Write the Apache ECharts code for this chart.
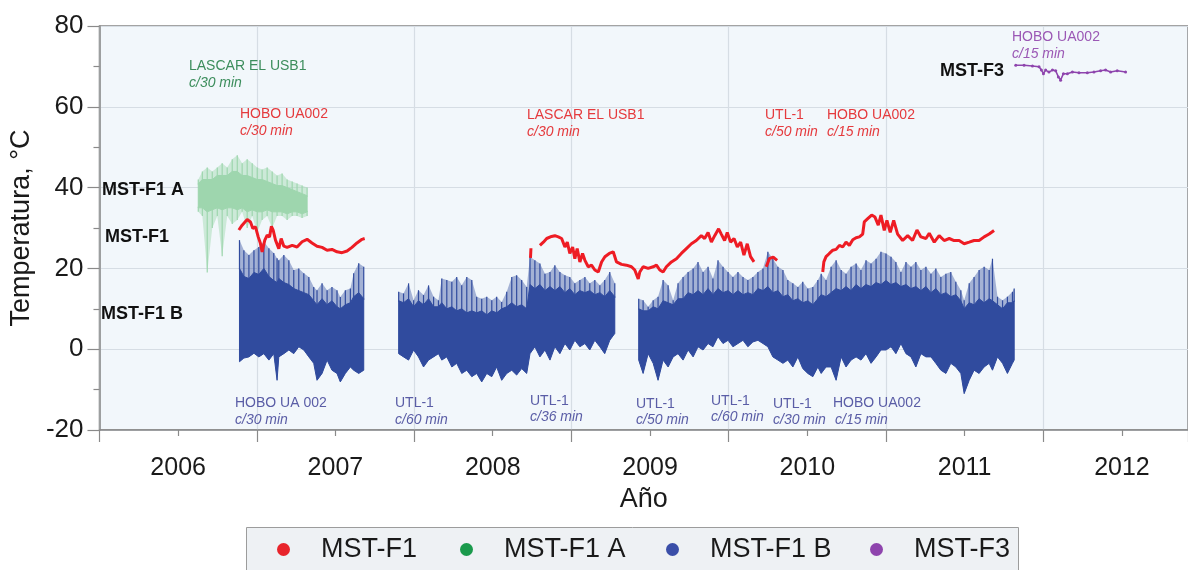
<!DOCTYPE html>
<html><head><meta charset="utf-8">
<script src="https://cdn.jsdelivr.net/npm/echarts@6/dist/echarts.min.js"></script>
<style>html,body{margin:0;padding:0;background:#fff}#c{width:1188px;height:570px}</style>
</head><body><div id="c"></div>
<script>
// ---- tick labels ----
const yearLabelPos = [2006.5, 2007.5, 2008.5, 2009.5, 2010.5, 2011.5, 2012.5];
const seriesNames = ['MST-F1', 'MST-F1 A', 'MST-F1 B', 'MST-F3'];

// ---- MST-F1 (red line), null = gap ----
const f1Year = [2006.886,2006.907,2006.939,2006.960,2006.975,2006.992,2007.009,2007.023,2007.034,2007.051,2007.066,2007.081,2007.093,2007.104,2007.119,2007.140,2007.155,2007.172,2007.193,2007.225,2007.256,2007.288,2007.320,2007.351,2007.383,2007.415,2007.447,2007.478,2007.510,2007.542,2007.574,2007.605,2007.637,2007.669,2007.686,
 null,2008.740,2008.743,
 null,2008.800,2008.822,2008.843,2008.874,2008.895,2008.917,2008.938,2008.959,2008.974,2008.990,2009.008,2009.022,2009.037,2009.054,2009.071,2009.086,2009.107,2009.128,2009.149,2009.171,2009.192,2009.213,2009.241,2009.266,2009.287,2009.319,2009.350,2009.382,2009.403,2009.425,2009.435,2009.456,2009.488,2009.520,2009.541,2009.562,2009.583,2009.604,2009.636,2009.668,2009.699,2009.731,2009.763,2009.794,2009.826,2009.847,2009.869,2009.890,2009.911,2009.936,2009.953,2009.974,2009.991,2010.012,2010.034,2010.055,2010.076,2010.097,2010.118,2010.139,2010.161,
 null,2010.239,2010.258,2010.283,2010.308,
 null,2010.598,2010.605,2010.619,2010.640,2010.662,2010.683,2010.704,2010.725,2010.746,2010.767,2010.789,2010.810,2010.831,2010.852,2010.862,2010.884,2010.909,2010.930,2010.951,2010.968,2010.989,2011.006,2011.027,2011.049,2011.074,2011.106,2011.138,2011.169,2011.197,2011.222,2011.254,2011.275,2011.307,2011.338,2011.370,2011.402,2011.433,2011.465,2011.497,2011.529,2011.560,2011.592,2011.624,2011.656,2011.687];
const f1Temp = [29.5,30.7,32.1,31.5,29.9,30.3,27.8,26.2,24.1,27.0,28.2,27.8,30.4,29.5,27.0,24.9,27.4,25.5,25.2,25.7,25.3,26.6,27.2,26.3,25.5,25.2,24.5,24.7,24.1,23.9,24.3,25.2,26.3,27.2,27.4,
 null,22.6,25.0,
 null,25.7,26.5,27.4,27.9,28.1,27.8,27.4,25.3,26.5,23.7,25.3,22.4,24.9,21.6,23.7,22.0,20.4,20.8,19.6,19.1,21.6,22.9,23.7,24.1,21.6,21.0,20.8,20.4,19.6,17.4,19.1,20.4,20.0,20.4,20.8,19.6,19.1,20.4,21.6,22.4,23.7,24.9,26.1,26.9,28.1,27.4,28.9,26.5,28.1,29.8,28.5,26.9,28.9,26.5,27.4,25.3,26.5,23.3,26.1,22.9,21.6,
 null,20.4,22.4,22.8,22.0,
 null,19.1,21.6,22.9,23.7,24.5,24.7,25.7,25.3,26.5,25.7,27.1,27.6,27.8,28.5,31.5,32.3,33.2,32.7,30.7,33.2,29.4,31.9,28.9,31.9,28.5,26.9,28.1,26.9,29.5,27.8,27.4,28.7,26.5,28.1,26.9,27.4,26.9,26.9,26.1,26.5,26.9,26.9,27.8,28.5,29.4];

// ---- MST-F1 A (green scatter band: extreme low/high and dense core low/high) ----
const f1aYear = [2006.628,2006.654,2006.685,2006.717,2006.749,2006.780,2006.812,2006.844,2006.876,2006.907,2006.939,2006.971,2007.003,2007.034,2007.066,2007.098,2007.129,2007.161,2007.193,2007.225,2007.256,2007.288,2007.320];
const f1aLow      = [34,33,19,30,33,23,33,31,32,34,30,33,29,32,33,30,33,33,32,33,33,32.5,33];
const f1aHigh     = [42,44,45,44,45,46,45,47,48,46,47,46,45,44.5,45,44,43,43.5,42,41.5,41,40.5,40];
const f1aCoreLow  = [35,35,34,34.5,35,34.5,35,35,34.5,35,34,34.5,34,34,34.5,34,34,34,33.5,34,34,33.5,34];
const f1aCoreHigh = [41,42,42,42,43,43,43,44,44,43,43,42.5,42,42,41.5,41,40.5,40.5,40,39.5,39,38.5,38];

// ---- MST-F1 B (blue scatter band: extreme low/high and dense core top), null = gap ----
const f1bYear = [2006.890,2006.918,2006.950,2006.982,2007.013,2007.045,2007.077,2007.108,2007.129,2007.140,2007.172,2007.204,2007.235,2007.267,2007.299,2007.331,2007.362,2007.383,2007.415,2007.447,2007.478,2007.510,2007.531,2007.563,2007.595,2007.616,2007.648,2007.680,
 null,2007.902,2007.933,2007.965,2007.997,2008.028,2008.060,2008.092,2008.124,2008.155,2008.176,2008.208,2008.240,2008.271,2008.303,2008.335,2008.367,2008.398,2008.430,2008.462,2008.494,2008.525,2008.557,2008.589,2008.621,2008.652,2008.684,2008.716,2008.737,2008.768,2008.800,2008.832,2008.864,2008.895,2008.927,2008.959,2008.990,2009.022,2009.054,2009.086,2009.117,2009.149,2009.181,2009.212,2009.244,2009.276,
 null,2009.428,2009.456,2009.488,2009.520,2009.551,2009.583,2009.615,2009.647,2009.678,2009.710,2009.742,2009.774,2009.805,2009.837,2009.869,2009.900,2009.932,2009.964,2009.996,2010.027,2010.059,2010.091,2010.122,2010.154,2010.186,2010.218,2010.249,2010.281,2010.313,2010.345,2010.376,2010.408,2010.440,2010.471,2010.503,2010.535,2010.567,2010.588,2010.619,2010.651,2010.683,2010.715,2010.746,2010.778,2010.810,2010.841,2010.873,2010.905,2010.937,2010.968,2011.000,2011.032,2011.063,2011.095,2011.127,2011.159,2011.190,2011.222,2011.254,2011.286,2011.317,2011.349,2011.381,2011.412,2011.444,2011.476,2011.497,2011.529,2011.560,2011.592,2011.624,2011.656,2011.677,2011.709,2011.741,2011.772,2011.804,2011.815];
const f1bLow = [-3.1,-2.2,-1.9,-1.0,-1.9,-1.1,-2.7,-1.1,-7.7,-1.9,-1.1,-0.2,-1.1,0.6,-0.2,-1.9,-3.5,-7.7,-6.0,-2.7,-5.2,-6.0,-8.1,-6.0,-4.4,-5.2,-6.0,-5.2,
 null,-1.1,-1.9,-2.7,-0.2,-1.9,-4.4,-2.7,-1.9,-1.1,-2.7,-1.9,-4.4,-3.5,-6.0,-5.2,-6.8,-6.0,-8.1,-6.0,-6.8,-4.4,-7.7,-6.0,-5.2,-6.4,-4.8,-6.0,-1.1,0.6,-1.9,-0.2,-2.7,0.6,-1.1,1.4,-0.2,2.2,0.6,1.4,-0.2,2.2,0.6,-1.1,2.2,3.9,
 null,-2.7,-6.0,-1.1,-3.5,-7.7,-2.7,-4.4,-1.9,-1.1,-2.7,-0.2,-1.9,0.6,-0.2,1.4,0.6,3.1,1.4,2.2,0.6,1.4,2.2,0.6,1.8,2.2,1.4,0.6,-1.9,-2.7,-3.5,-2.7,-4.4,-1.9,-4.8,-6.0,-6.8,-4.4,-6.0,-4.4,-4.4,-7.7,-1.9,-4.4,-2.7,-1.9,-2.7,-1.1,-3.5,-1.9,-0.2,-0.2,0.6,-1.1,1.4,-1.1,-1.9,-4.4,-1.1,-1.9,-1.9,-3.5,-5.2,-6.0,-3.5,-4.4,-6.0,-11.0,-7.7,-5.2,-6.0,-4.4,-3.5,-5.2,-1.9,-3.5,-6.0,-3.5,-2.7];
const f1bHigh = [27.0,24.5,23.3,24.5,25.3,26.6,25.0,23.8,22.5,22.0,23.3,22.0,19.6,20.0,18.8,17.9,15.4,14.6,16.3,14.6,15.4,14.6,12.9,14.6,15.0,18.8,21.3,20.4,
 null,14.2,13.8,16.3,12.1,14.6,13.4,15.8,13.0,12.1,17.5,17.1,16.7,17.9,15.8,17.9,17.1,13.0,12.5,13.0,12.1,13.0,11.7,14.2,17.9,18.3,17.1,15.4,22.9,22.0,21.2,18.7,19.1,20.8,19.1,18.3,17.9,16.3,17.1,17.9,16.3,17.1,15.8,17.1,19.1,16.3,
 null,12.5,12.1,10.5,12.1,13.0,17.1,15.8,12.1,16.3,17.9,19.1,20.0,21.6,19.1,20.4,17.5,22.0,20.4,19.1,17.9,19.1,17.9,17.1,17.9,19.1,20.0,24.1,22.4,20.4,19.6,17.1,16.3,15.4,16.7,15.0,15.4,17.1,18.7,17.1,20.4,22.0,19.6,18.7,20.4,21.2,19.6,22.0,21.2,22.4,24.1,23.7,22.9,21.6,19.1,21.6,20.4,21.6,19.6,20.4,18.7,20.0,17.9,18.7,19.1,16.7,14.6,12.1,16.3,17.9,19.6,20.4,19.6,22.4,13.0,12.1,13.0,14.2,15.0];
const f1bCoreHigh = [20,18,17.5,19,18.5,20,18,17,16.5,17.5,16.5,16,15,14.5,14,13.5,12,11,12.5,11,12,10.5,10,11,11.5,13,14,12.5,
 null,12,11.5,12.5,10.5,12,11,12.5,10.5,10.5,11.5,10,10.5,9.5,10,9,9.5,9,9.5,8.5,9.5,9,10,10.5,11.5,10.5,11,10,16,15,16,14.5,15.5,14.5,15.5,14,15,13.5,14.5,14,14.5,13.5,14,13,14.5,13,
 null,10,9.5,9.5,10.5,10,12,11.5,11,12.5,12.5,14,13.5,14.5,13.5,15,13.5,15,14,14.5,13.5,14.5,13.5,14,13.5,15,14.5,15.5,14,14.5,13,13.5,12,12.5,11.5,12,11,12.5,13.5,13,14,15,14.5,15.5,14.5,16,15,16,15.5,16.5,16,17,16,16.5,15.5,16,15,15.5,14.5,15.5,14,15,13.5,14,13,13.5,12,10,11.5,11,12.5,11.5,12.5,12,11,10,11.5,11.5,12];

// ---- MST-F3 (purple line) ----
const f3Year = [2011.825,2011.878,2011.931,2011.973,2011.988,2012.001,2012.015,2012.036,2012.058,2012.079,2012.096,2012.110,2012.128,2012.153,2012.185,2012.227,2012.280,2012.322,2012.364,2012.396,2012.428,2012.470,2012.523];
const f3Temp = [70.3,70.3,70.1,69.9,69.1,68.2,69.1,68.6,69.1,68.9,67.4,66.6,68.2,68.2,68.6,68.4,68.4,68.6,68.9,69.1,68.6,68.9,68.6];

const FONT = "'Liberation Sans', Arial, sans-serif";

function pairs(T, V) {
  return T.map((t, i) => (t == null || V[i] == null) ? ['-', '-'] : [t, V[i]]);
}

// band = faint envelope (sparse points) + solid dense core + thin spikes to the extremes
function bandSeries(name, T, LO, HI, CLO, CHI, color, haze, spikeW, z) {
  const starts = [];
  for (let i = 0; i < T.length; i++) {
    if (T[i] != null && (i === 0 || T[i - 1] == null)) starts.push([T[i], LO[i], HI[i], i]);
  }
  return {
    type: 'custom', name: name, z: z, xAxisIndex: 0, yAxisIndex: 0,
    itemStyle: { color: color },
    encode: { x: 0, y: [1, 2] },
    data: starts,
    clip: true,
    renderItem: function (params, api) {
      const i0 = api.value(3);
      const eTop = [], eBot = [], cTop = [], cBot = [], spikes = [];
      for (let i = i0; i < T.length && T[i] != null; i++) {
        const ch = CHI ? CHI[i] : HI[i];
        const cl = CLO ? CLO[i] : LO[i];
        const pHi = api.coord([T[i], HI[i]]), pCh = api.coord([T[i], ch]);
        const pLo = api.coord([T[i], LO[i]]), pCl = api.coord([T[i], cl]);
        eTop.push(pHi); eBot.push(pLo); cTop.push(pCh); cBot.push(pCl);
        if (HI[i] > ch) spikes.push({ type: 'line', shape: { x1: pCh[0], y1: pCh[1] + 1, x2: pHi[0], y2: pHi[1] },
          style: { stroke: color, lineWidth: spikeW } });
        if (LO[i] < cl) spikes.push({ type: 'line', shape: { x1: pCl[0], y1: pCl[1] - 1, x2: pLo[0], y2: pLo[1] },
          style: { stroke: color, lineWidth: spikeW } });
      }
      const kids = [
        { type: 'polygon', shape: { points: eTop.concat(eBot.slice().reverse()) },
          style: { fill: color, opacity: haze } },
        { type: 'polygon', shape: { points: cTop.concat(cBot.slice().reverse()) },
          style: { fill: color, stroke: color, lineWidth: 1 } }
      ].concat(spikes);
      return { type: 'group', children: kids };
    }
  };
}

function txt(x, y, s, color, opts) {
  opts = opts || {};
  return { type: 'text', left: x, top: y - (opts.size || 14) / 2 - 1, z: 50,
    style: { text: s, fill: color, fontFamily: FONT, fontSize: opts.size || 14,
      fontStyle: opts.italic ? 'italic' : 'normal', fontWeight: opts.bold ? 'bold' : 'normal' } };
}

function legendAt(x, name, color) {
  return { left: x, top: 536, padding: 0, itemWidth: 13, itemHeight: 13,
    textStyle: { fontFamily: FONT, fontSize: 27, color: '#1a1a1a', padding: [0, 0, 0, 26] },
    data: [{ name: name, icon: 'circle', itemStyle: { color: color } }] };
}

const RED_T = '#e53a3d', BLUE_T = '#5a5da6', GREEN_T = '#3c8d5c', PURP_T = '#9b58b5';

const chart = echarts.init(document.getElementById('c'), null, { renderer: 'canvas' });
chart.setOption({
  animation: false,
  grid: { left: 97, top: 26, right: 0, bottom: 140, show: true,
    backgroundColor: '#f2f7fb', borderColor: '#858585', borderWidth: 1.5 },
  xAxis: [{
    type: 'value', min: 2006, max: 2012.92, interval: 1,
    axisLine: { show: true, onZero: false, lineStyle: { color: '#8a8a8a', width: 1.5 } },
    axisTick: { show: true, inside: false, length: 12, lineStyle: { color: '#8a8a8a', width: 1.2 } },
    axisLabel: { show: false },
    splitLine: { show: true, lineStyle: { color: '#d6dde4', width: 1.2 } }
  }, {
    type: 'value', min: 2006, max: 2012.92, position: 'bottom',
    axisLine: { show: false, onZero: false },
    axisTick: { show: true, inside: false, length: 6, customValues: yearLabelPos, lineStyle: { color: '#8a8a8a', width: 1.2 } },
    axisLabel: { show: true, customValues: yearLabelPos, margin: 26,
      formatter: v => String(Math.floor(v)),
      fontFamily: FONT, fontSize: 25, color: '#1a1a1a' },
    splitLine: { show: false },
    name: 'Año', nameLocation: 'middle', nameGap: 56,
    nameTextStyle: { fontFamily: FONT, fontSize: 27, color: '#1a1a1a' }
  }],
  yAxis: {
    type: 'value', min: -20, max: 80, interval: 20,
    axisLine: { show: true, lineStyle: { color: '#8a8a8a', width: 1.5 } },
    axisTick: { show: true, inside: false, length: 12, lineStyle: { color: '#8a8a8a', width: 1.2 } },
    minorTick: { show: true, splitNumber: 2, length: 6, lineStyle: { color: '#8a8a8a', width: 1.2 } },
    axisLabel: { margin: 16, fontFamily: FONT, fontSize: 26, color: '#1a1a1a' },
    splitLine: { show: true, lineStyle: { color: '#d6dde4', width: 1.2 } },
    name: 'Temperatura, °C', nameLocation: 'middle', nameGap: 60,
    nameTextStyle: { fontFamily: FONT, fontSize: 27, color: '#1a1a1a' }
  },
  legend: [
    legendAt(277, seriesNames[0], '#e8242b'),
    legendAt(460, seriesNames[1], '#1a9a4c'),
    legendAt(666, seriesNames[2], '#3a4ea8'),
    legendAt(870, seriesNames[3], '#8e44ad')
  ],
  graphic: [
    { type: 'rect', left: 246, top: 527, z: -1, shape: { width: 772, height: 60 },
      style: { fill: '#eef1f4', stroke: '#9c9c9c', lineWidth: 1 } },
    txt(189, 67, 'LASCAR EL USB1', GREEN_T), txt(189, 84, 'c/30 min', GREEN_T, { italic: true }),
    txt(240, 115, 'HOBO UA002', RED_T), txt(240, 132, 'c/30 min', RED_T, { italic: true }),
    txt(527, 116, 'LASCAR EL USB1', RED_T), txt(527, 133, 'c/30 min', RED_T, { italic: true }),
    txt(765, 116, 'UTL-1', RED_T), txt(765, 133, 'c/50 min', RED_T, { italic: true }),
    txt(827, 116, 'HOBO UA002', RED_T), txt(827, 133, 'c/15 min', RED_T, { italic: true }),
    txt(1012, 38, 'HOBO UA002', PURP_T), txt(1012, 55, 'c/15 min', PURP_T, { italic: true }),
    txt(940, 72, 'MST-F3', '#111', { bold: true, size: 18 }),
    txt(102, 191, 'MST-F1 A', '#111', { bold: true, size: 18 }),
    txt(105, 238, 'MST-F1', '#111', { bold: true, size: 18 }),
    txt(101, 315, 'MST-F1 B', '#111', { bold: true, size: 18 }),
    txt(235, 404, 'HOBO UA 002', BLUE_T), txt(235, 421, 'c/30 min', BLUE_T, { italic: true }),
    txt(395, 404, 'UTL-1', BLUE_T), txt(395, 421, 'c/60 min', BLUE_T, { italic: true }),
    txt(530, 402, 'UTL-1', BLUE_T), txt(530, 418, 'c/36 min', BLUE_T, { italic: true }),
    txt(636, 405, 'UTL-1', BLUE_T), txt(636, 421, 'c/50 min', BLUE_T, { italic: true }),
    txt(711, 402, 'UTL-1', BLUE_T), txt(711, 418, 'c/60 min', BLUE_T, { italic: true }),
    txt(773, 405, 'UTL-1', BLUE_T), txt(773, 421, 'c/30 min', BLUE_T, { italic: true }),
    txt(833, 404, 'HOBO UA002', BLUE_T), txt(835, 421, 'c/15 min', BLUE_T, { italic: true })
  ],
  series: [
    {
      name: seriesNames[0], type: 'line', z: 5, xAxisIndex: 0,
      data: pairs(f1Year, f1Temp), showSymbol: false, connectNulls: false,
      lineStyle: { color: '#ee1c24', width: 3 }, itemStyle: { color: '#ee1c24' }
    },
    bandSeries(seriesNames[1], f1aYear, f1aLow, f1aHigh, f1aCoreLow, f1aCoreHigh, '#9ed6ae', 0.45, 1.2, 3),
    bandSeries(seriesNames[2], f1bYear, f1bLow, f1bHigh, null, f1bCoreHigh, '#304b9e', 0.4, 1.2, 2),
    {
      name: seriesNames[3], type: 'line', z: 5, xAxisIndex: 0,
      data: pairs(f3Year, f3Temp), showSymbol: true, symbol: 'circle', symbolSize: 3,
      lineStyle: { color: '#8e44ad', width: 1.5 }, itemStyle: { color: '#8e44ad' }
    }
  ]
});
</script></body></html>
